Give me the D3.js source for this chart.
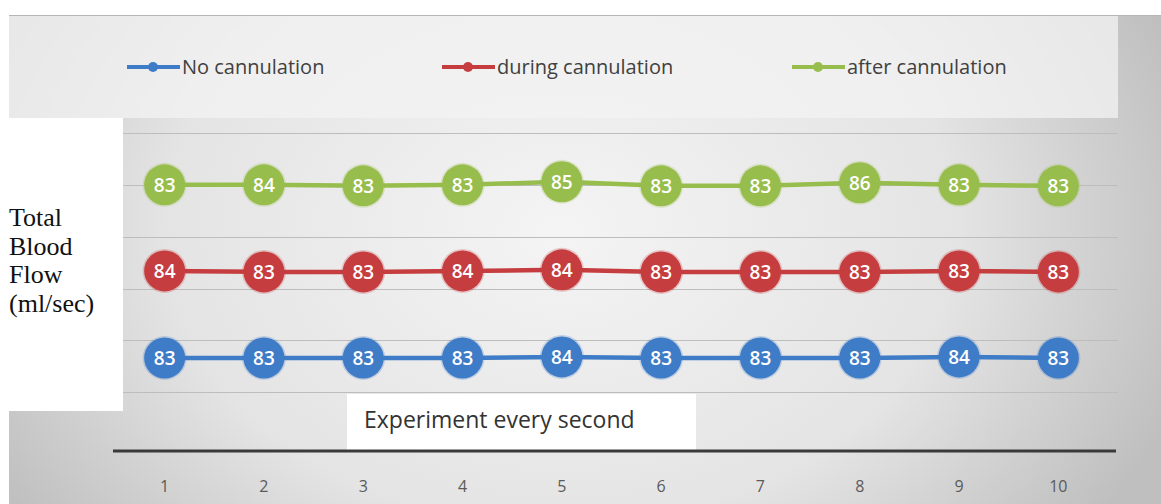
<!DOCTYPE html>
<html>
<head>
<meta charset="utf-8">
<script src="https://cdn.jsdelivr.net/npm/d3@7"></script>
<style>
  body { margin: 0; background: #fff; }
  svg { display: block; }
</style>
</head>
<body>
<div id="chart"></div>
<script>
const seconds = ['1', '2', '3', '4', '5', '6', '7', '8', '9', '10'];
const noCannulation = [83, 83, 83, 83, 84, 83, 83, 83, 84, 83];
const duringCannulation = [84, 83, 83, 84, 84, 83, 83, 83, 83, 83];
const afterCannulation = [83, 84, 83, 83, 85, 83, 83, 86, 83, 83];
const seriesNames = ['No cannulation', 'during cannulation', 'after cannulation'];
const yTicks = [0, 50, 100, 150, 200, 250, 300];

const W = 1161, H = 504;
const colors = ['#3f7cc7', '#c63d3f', '#97bd4c'];

const rows = seconds.map((s, i) => ({
    sec: s,
    a: noCannulation[i],
    b: duringCannulation[i],
    c: afterCannulation[i]
}));
const keys = ['a', 'b', 'c'];
// stacked line with markers, like the original spreadsheet chart
const stacked = d3.stack().keys(keys)(rows);

const svg = d3.select('#chart').append('svg')
    .attr('width', W)
    .attr('height', H)
    .style('font-family', '"Open Sans", sans-serif');

const defs = svg.append('defs');
const bg = defs.append('radialGradient')
    .attr('id', 'bg')
    .attr('gradientUnits', 'userSpaceOnUse')
    .attr('cx', 560).attr('cy', 230).attr('r', 660)
    .attr('gradientTransform', 'translate(560,230) scale(1,0.75) translate(-560,-230)');
bg.append('stop').attr('offset', '0%').attr('stop-color', '#f4f4f4');
bg.append('stop').attr('offset', '60%').attr('stop-color', '#e4e4e4');
bg.append('stop').attr('offset', '100%').attr('stop-color', '#bfbfbf');

// background panel
svg.append('rect')
    .attr('x', 9).attr('y', 16)
    .attr('width', W - 9).attr('height', H - 16)
    .attr('fill', 'url(#bg)');
svg.append('line')
    .attr('x1', 9).attr('x2', W)
    .attr('y1', 15.5).attr('y2', 15.5)
    .attr('stroke', '#b5b5b5');

// legend panel
svg.append('rect')
    .attr('x', 9).attr('y', 16)
    .attr('width', 1109).attr('height', 102)
    .attr('fill', '#f3f3f3')
    .attr('opacity', 0.75);

const x = d3.scaleBand()
    .domain(seconds)
    .range([115, 1108]);

const y = d3.scaleLinear()
    .domain([0, 300])
    .range([444, 133]);

// gridlines
svg.append('g')
    .selectAll('line')
    .data(yTicks.filter(d => d > 0))
    .join('line')
    .attr('x1', 123).attr('x2', 1118)
    .attr('y1', d => Math.round(y(d)) + 0.5)
    .attr('y2', d => Math.round(y(d)) + 0.5)
    .attr('stroke', '#bdbdbd')
    .attr('stroke-width', 1);

// white boxes
svg.append('rect')
    .attr('x', 0).attr('y', 118)
    .attr('width', 123).attr('height', 293)
    .attr('fill', '#fff');
svg.append('rect')
    .attr('x', 347).attr('y', 394)
    .attr('width', 349).attr('height', 56)
    .attr('fill', '#fff');

// x axis
const xAxis = svg.append('g')
    .attr('transform', 'translate(0, 451)')
    .call(d3.axisBottom(x).tickSize(0).tickPadding(30));
xAxis.select('.domain')
    .attr('d', 'M113,0H1116')
    .attr('stroke', '#3a3a3a')
    .attr('stroke-width', 3);
xAxis.selectAll('.tick text')
    .attr('fill', '#5a5a5a')
    .style('font-size', '16px')
    .style('font-family', '"Open Sans", sans-serif');

svg.append('text')
    .attr('x', 364).attr('y', 428)
    .attr('fill', '#333')
    .style('font-size', '23px')
    .text('Experiment every second');

const yLabel = svg.append('text')
    .attr('x', 9).attr('y', 226)
    .attr('fill', '#111')
    .style('font-family', '"Liberation Serif", "DejaVu Serif", serif')
    .style('font-size', '26px');
['Total', 'Blood', 'Flow', '(ml/sec)'].forEach((t, i) => {
    yLabel.append('tspan').attr('x', 9).attr('dy', i === 0 ? 0 : 28.5).text(t);
});

// lines
const cx = d => x(d.data.sec) + x.bandwidth() / 2;
const line = d3.line().x(cx).y(d => y(d[1]));

const series = svg.append('g')
    .selectAll('g')
    .data(stacked)
    .join('g');

series.append('path')
    .attr('d', line)
    .attr('fill', 'none')
    .attr('stroke', (d, i) => colors[i])
    .attr('stroke-width', 4.5);

const markers = series.selectAll('g.marker')
    .data((d, i) => d.map(p => ({p, i, key: d.key})))
    .join('g')
    .attr('class', 'marker')
    .attr('transform', d => `translate(${cx(d.p)}, ${y(d.p[1])})`);

markers.append('circle')
    .attr('r', 22)
    .attr('fill', d => colors[d.i])
    .attr('opacity', 0.25);
markers.append('circle')
    .attr('r', 20.5)
    .attr('fill', d => colors[d.i]);
markers.append('text')
    .attr('text-anchor', 'middle')
    .attr('dy', '0.36em')
    .attr('fill', '#fff')
    .style('font-size', '19px')
    .style('font-weight', 600)
    .text(d => d.p.data[d.key]);

// legend
const legendX = [127, 442, 792];
const legend = svg.append('g')
    .selectAll('g')
    .data(seriesNames)
    .join('g')
    .attr('transform', (d, i) => `translate(${legendX[i]}, 67)`);
legend.append('line')
    .attr('x1', 0).attr('x2', 53)
    .attr('stroke', (d, i) => colors[i])
    .attr('stroke-width', 4);
legend.append('circle')
    .attr('cx', 26).attr('r', 5)
    .attr('fill', (d, i) => colors[i]);
legend.append('text')
    .attr('x', 55)
    .attr('dy', '0.35em')
    .attr('fill', '#404040')
    .style('font-size', '20px')
    .text(d => d);
</script>
</body>
</html>
